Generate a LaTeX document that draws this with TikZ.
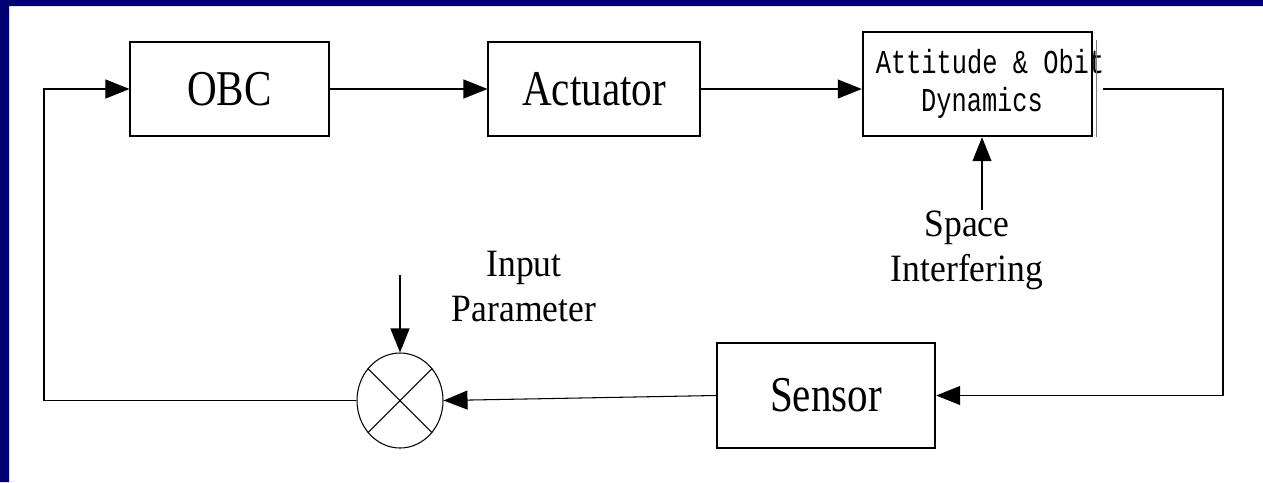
\documentclass[tikz,border=0pt]{standalone}
\usepackage{fontspec}
\setmainfont{Liberation Serif}
\newfontfamily\bigserif{Liberation Serif}[FakeStretch=0.82]
\newfontfamily\midserif{Liberation Serif}[FakeStretch=0.92]
\newfontfamily\dynmono{Liberation Mono}[FakeStretch=0.76]
\usetikzlibrary{arrows.meta,shapes.geometric}
\definecolor{frameblue}{RGB}{0,0,112}
\newcommand{\offline}[2]{\makebox[0pt][c]{\hspace*{#1}#2}}

\begin{document}
\begin{tikzpicture}[x=0.2mm, y=-0.2mm, line width=0.6pt, >={Triangle[length=4.8mm,width=3.8mm]},
	block/.style={draw, minimum height=18.8mm, inner sep=0pt, font=\bigserif\fontsize{28.5}{30}\selectfont},
	thickblock/.style={block, line width=1.4pt},
	lbl/.style={align=center, font=\midserif\fontsize{22}{25.6}\selectfont}]
	\useasboundingbox (0,0) rectangle (1263,482);
	\fill[frameblue] (0,0) rectangle (1263,6) (0,0) rectangle (9,482);
	% blocks
	\node[block, minimum width=39.8mm] (obc) at (229.5,89) {OBC};
	\node[block, minimum width=42.4mm] (act) at (594,89) {Actuator};
	\node[thickblock, minimum width=45.8mm, minimum height=20.8mm, align=center,
		font=\dynmono\fontsize{19}{21.6}\selectfont] (dyn) at (977.5,84) {\offline{5mm}{Attitude \& Obit}\\\offline{1.8mm}{Dynamics}};
	\draw[gray, line width=0.5pt] ([shift={(0.6mm,-1.8mm)}]dyn.north east) -- ([xshift=0.6mm]dyn.south east);
	\node[thickblock, minimum width=43.6mm, minimum height=21mm] (sen) at (826,395.5) {Sensor};
	\node[draw, ellipse, minimum width=17.2mm, minimum height=19mm, inner sep=0pt] (sum) at (400,400.5) {};
	\draw (sum.45) -- (sum.225) (sum.135) -- (sum.315);
	% labels
	\node[lbl] (inp) at (524,287) {Input\\Parameter};
	\node[lbl] (spc) at (967,250) {Space\\Interfering};
	\coordinate (inptop) at (400,275);
	\coordinate (spctop) at (982,210);
	\coordinate (lf) at (44,0);
	\coordinate (rt) at (1223,0);
	% connectors
	\draw[->] (obc.east) -- (act.west);
	\draw[->] (act.east) -- (act.east -| dyn.west);
	\draw[->] ([xshift=2mm]dyn.east |- act.east) -- (act.east -| rt) -- (sen.east -| rt) -- (sen.east);
	\draw[->] (sen.west) -- (sum.east);
	\draw[->] (sum.west) -- (sum.west -| lf) -- (obc.west -| lf) -- (obc.west);
	\draw[->] (inptop) -- (sum.north);
	\draw[->] (spctop) -- (spctop |- dyn.south);
\end{tikzpicture}
\end{document}
